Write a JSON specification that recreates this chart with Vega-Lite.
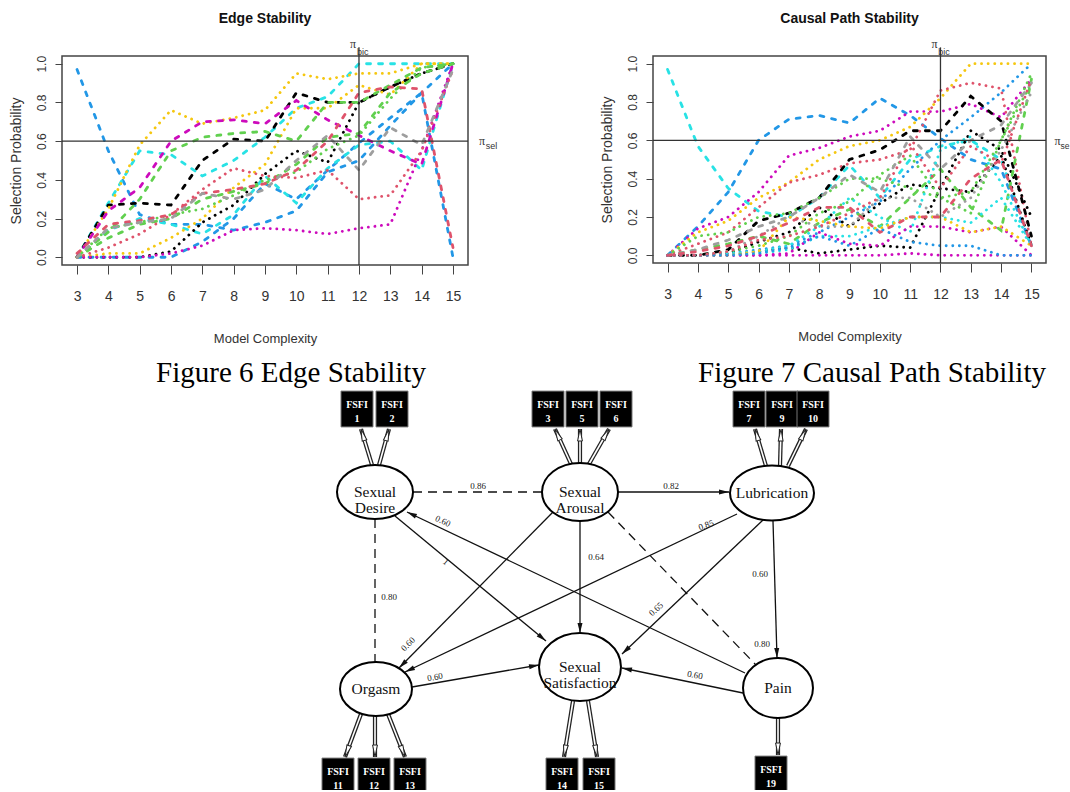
{
"$schema":"https://vega.github.io/schema/vega-lite/v6.json",
"background":"white",
"padding":{"left":8,"top":10,"right":0,"bottom":0},
"autosize":{"type":"pad"},
"bounds":"flush",
"spacing":297,
"config":{
 "view":{"stroke":"#444","strokeWidth":1.5},
 "axis":{"grid":false,"domain":false,"tickColor":"#444","labelColor":"#333","titleColor":"#333","titleFontWeight":"normal","labelFlush":false,"labelOverlap":false},
 "axisX":{"values":[3,4,5,6,7,8,9,10,11,12,13,14,15],"tickSize":9,"labelFontSize":14,"labelFont":"Liberation Sans","labelPadding":15,"titleFont":"Liberation Sans","titleFontSize":13,"titlePadding":29},
 "axisY":{"values":[0,0.2,0.4,0.6,0.8,1],"format":".1f","tickSize":7,"labelAngle":-90,"labelAlign":"center","labelBaseline":"bottom","labelFontSize":12,"labelPadding":7,"labelFont":"Liberation Sans","titleFont":"Liberation Sans","titleFontSize":14,"titlePadding":12}
},
"datasets":{
"edge":[
{"s":"e1","c":"blue","l":"dashed","x":3,"y":0.97},{"s":"e1","c":"blue","l":"dashed","x":4,"y":0.55},{"s":"e1","c":"blue","l":"dashed","x":5,"y":0.22},{"s":"e1","c":"blue","l":"dashed","x":6,"y":0.17},{"s":"e1","c":"blue","l":"dashed","x":7,"y":0.17},{"s":"e1","c":"blue","l":"dashed","x":8,"y":0.14},{"s":"e1","c":"blue","l":"dashed","x":9,"y":0.18},{"s":"e1","c":"blue","l":"dashed","x":10,"y":0.24},{"s":"e1","c":"blue","l":"dashed","x":11,"y":0.44},{"s":"e1","c":"blue","l":"dashed","x":12,"y":0.5},{"s":"e1","c":"blue","l":"dashed","x":13,"y":0.68},{"s":"e1","c":"blue","l":"dashed","x":14,"y":0.85},{"s":"e1","c":"blue","l":"dashed","x":15,"y":1},
{"s":"e2","c":"blue","l":"dashed","x":3,"y":0},{"s":"e2","c":"blue","l":"dashed","x":4,"y":0},{"s":"e2","c":"blue","l":"dashed","x":5,"y":0},{"s":"e2","c":"blue","l":"dashed","x":6,"y":0},{"s":"e2","c":"blue","l":"dashed","x":7,"y":0.08},{"s":"e2","c":"blue","l":"dashed","x":8,"y":0.2},{"s":"e2","c":"blue","l":"dashed","x":9,"y":0.38},{"s":"e2","c":"blue","l":"dashed","x":10,"y":0.3},{"s":"e2","c":"blue","l":"dashed","x":11,"y":0.45},{"s":"e2","c":"blue","l":"dashed","x":12,"y":0.59},{"s":"e2","c":"blue","l":"dashed","x":13,"y":0.72},{"s":"e2","c":"blue","l":"dashed","x":14,"y":0.85},{"s":"e2","c":"blue","l":"dashed","x":15,"y":0},
{"s":"e3","c":"cyan","l":"dashed","x":3,"y":0},{"s":"e3","c":"cyan","l":"dashed","x":4,"y":0.28},{"s":"e3","c":"cyan","l":"dashed","x":5,"y":0.55},{"s":"e3","c":"cyan","l":"dashed","x":6,"y":0.53},{"s":"e3","c":"cyan","l":"dashed","x":7,"y":0.42},{"s":"e3","c":"cyan","l":"dashed","x":8,"y":0.5},{"s":"e3","c":"cyan","l":"dashed","x":9,"y":0.62},{"s":"e3","c":"cyan","l":"dashed","x":10,"y":0.77},{"s":"e3","c":"cyan","l":"dashed","x":11,"y":0.83},{"s":"e3","c":"cyan","l":"dashed","x":12,"y":1},{"s":"e3","c":"cyan","l":"dashed","x":13,"y":1},{"s":"e3","c":"cyan","l":"dashed","x":14,"y":1},{"s":"e3","c":"cyan","l":"dashed","x":15,"y":1},
{"s":"e4","c":"cyan","l":"dashed","x":3,"y":0},{"s":"e4","c":"cyan","l":"dashed","x":4,"y":0.14},{"s":"e4","c":"cyan","l":"dashed","x":5,"y":0.2},{"s":"e4","c":"cyan","l":"dashed","x":6,"y":0.17},{"s":"e4","c":"cyan","l":"dashed","x":7,"y":0.12},{"s":"e4","c":"cyan","l":"dashed","x":8,"y":0.22},{"s":"e4","c":"cyan","l":"dashed","x":9,"y":0.42},{"s":"e4","c":"cyan","l":"dashed","x":10,"y":0.28},{"s":"e4","c":"cyan","l":"dashed","x":11,"y":0.46},{"s":"e4","c":"cyan","l":"dashed","x":12,"y":0.58},{"s":"e4","c":"cyan","l":"dashed","x":13,"y":0.6},{"s":"e4","c":"cyan","l":"dashed","x":14,"y":0.45},{"s":"e4","c":"cyan","l":"dashed","x":15,"y":1},
{"s":"e5","c":"black","l":"dashed","x":3,"y":0},{"s":"e5","c":"black","l":"dashed","x":4,"y":0.27},{"s":"e5","c":"black","l":"dashed","x":5,"y":0.28},{"s":"e5","c":"black","l":"dashed","x":6,"y":0.27},{"s":"e5","c":"black","l":"dashed","x":7,"y":0.5},{"s":"e5","c":"black","l":"dashed","x":8,"y":0.61},{"s":"e5","c":"black","l":"dashed","x":9,"y":0.6},{"s":"e5","c":"black","l":"dashed","x":10,"y":0.85},{"s":"e5","c":"black","l":"dashed","x":11,"y":0.8},{"s":"e5","c":"black","l":"dashed","x":12,"y":0.8},{"s":"e5","c":"black","l":"dashed","x":13,"y":0.88},{"s":"e5","c":"black","l":"dashed","x":14,"y":0.95},{"s":"e5","c":"black","l":"dashed","x":15,"y":1},
{"s":"e6","c":"black","l":"dotted","x":3,"y":0},{"s":"e6","c":"black","l":"dotted","x":4,"y":0},{"s":"e6","c":"black","l":"dotted","x":5,"y":0},{"s":"e6","c":"black","l":"dotted","x":6,"y":0.03},{"s":"e6","c":"black","l":"dotted","x":7,"y":0.18},{"s":"e6","c":"black","l":"dotted","x":8,"y":0.27},{"s":"e6","c":"black","l":"dotted","x":9,"y":0.43},{"s":"e6","c":"black","l":"dotted","x":10,"y":0.55},{"s":"e6","c":"black","l":"dotted","x":11,"y":0.49},{"s":"e6","c":"black","l":"dotted","x":12,"y":0.8},{"s":"e6","c":"black","l":"dotted","x":13,"y":0.88},{"s":"e6","c":"black","l":"dotted","x":14,"y":0.95},{"s":"e6","c":"black","l":"dotted","x":15,"y":1},
{"s":"e7","c":"orange","l":"dotted","x":3,"y":0},{"s":"e7","c":"orange","l":"dotted","x":4,"y":0.25},{"s":"e7","c":"orange","l":"dotted","x":5,"y":0.58},{"s":"e7","c":"orange","l":"dotted","x":6,"y":0.76},{"s":"e7","c":"orange","l":"dotted","x":7,"y":0.69},{"s":"e7","c":"orange","l":"dotted","x":8,"y":0.72},{"s":"e7","c":"orange","l":"dotted","x":9,"y":0.76},{"s":"e7","c":"orange","l":"dotted","x":10,"y":0.95},{"s":"e7","c":"orange","l":"dotted","x":11,"y":0.92},{"s":"e7","c":"orange","l":"dotted","x":12,"y":0.95},{"s":"e7","c":"orange","l":"dotted","x":13,"y":0.95},{"s":"e7","c":"orange","l":"dotted","x":14,"y":1},{"s":"e7","c":"orange","l":"dotted","x":15,"y":1},
{"s":"e8","c":"orange","l":"dotted","x":3,"y":0},{"s":"e8","c":"orange","l":"dotted","x":4,"y":0.02},{"s":"e8","c":"orange","l":"dotted","x":5,"y":0.02},{"s":"e8","c":"orange","l":"dotted","x":6,"y":0.1},{"s":"e8","c":"orange","l":"dotted","x":7,"y":0.2},{"s":"e8","c":"orange","l":"dotted","x":8,"y":0.36},{"s":"e8","c":"orange","l":"dotted","x":9,"y":0.48},{"s":"e8","c":"orange","l":"dotted","x":10,"y":0.77},{"s":"e8","c":"orange","l":"dotted","x":11,"y":0.77},{"s":"e8","c":"orange","l":"dotted","x":12,"y":0.89},{"s":"e8","c":"orange","l":"dotted","x":13,"y":0.84},{"s":"e8","c":"orange","l":"dotted","x":14,"y":1},{"s":"e8","c":"orange","l":"dotted","x":15,"y":1},
{"s":"e9","c":"magenta","l":"dashed","x":3,"y":0},{"s":"e9","c":"magenta","l":"dashed","x":4,"y":0.24},{"s":"e9","c":"magenta","l":"dashed","x":5,"y":0.36},{"s":"e9","c":"magenta","l":"dashed","x":6,"y":0.6},{"s":"e9","c":"magenta","l":"dashed","x":7,"y":0.7},{"s":"e9","c":"magenta","l":"dashed","x":8,"y":0.71},{"s":"e9","c":"magenta","l":"dashed","x":9,"y":0.69},{"s":"e9","c":"magenta","l":"dashed","x":10,"y":0.81},{"s":"e9","c":"magenta","l":"dashed","x":11,"y":0.71},{"s":"e9","c":"magenta","l":"dashed","x":12,"y":0.63},{"s":"e9","c":"magenta","l":"dashed","x":13,"y":0.55},{"s":"e9","c":"magenta","l":"dashed","x":14,"y":0.48},{"s":"e9","c":"magenta","l":"dashed","x":15,"y":1},
{"s":"e10","c":"magenta","l":"dotted","x":3,"y":0},{"s":"e10","c":"magenta","l":"dotted","x":4,"y":0},{"s":"e10","c":"magenta","l":"dotted","x":5,"y":0},{"s":"e10","c":"magenta","l":"dotted","x":6,"y":0.02},{"s":"e10","c":"magenta","l":"dotted","x":7,"y":0.06},{"s":"e10","c":"magenta","l":"dotted","x":8,"y":0.14},{"s":"e10","c":"magenta","l":"dotted","x":9,"y":0.15},{"s":"e10","c":"magenta","l":"dotted","x":10,"y":0.14},{"s":"e10","c":"magenta","l":"dotted","x":11,"y":0.12},{"s":"e10","c":"magenta","l":"dotted","x":12,"y":0.15},{"s":"e10","c":"magenta","l":"dotted","x":13,"y":0.17},{"s":"e10","c":"magenta","l":"dotted","x":14,"y":0.55},{"s":"e10","c":"magenta","l":"dotted","x":15,"y":1},
{"s":"e11","c":"green","l":"dashed","x":3,"y":0},{"s":"e11","c":"green","l":"dashed","x":4,"y":0.13},{"s":"e11","c":"green","l":"dashed","x":5,"y":0.3},{"s":"e11","c":"green","l":"dashed","x":6,"y":0.55},{"s":"e11","c":"green","l":"dashed","x":7,"y":0.62},{"s":"e11","c":"green","l":"dashed","x":8,"y":0.64},{"s":"e11","c":"green","l":"dashed","x":9,"y":0.65},{"s":"e11","c":"green","l":"dashed","x":10,"y":0.6},{"s":"e11","c":"green","l":"dashed","x":11,"y":0.8},{"s":"e11","c":"green","l":"dashed","x":12,"y":0.8},{"s":"e11","c":"green","l":"dashed","x":13,"y":0.89},{"s":"e11","c":"green","l":"dashed","x":14,"y":0.98},{"s":"e11","c":"green","l":"dashed","x":15,"y":1},
{"s":"e12","c":"green","l":"dotted","x":3,"y":0},{"s":"e12","c":"green","l":"dotted","x":4,"y":0.15},{"s":"e12","c":"green","l":"dotted","x":5,"y":0.18},{"s":"e12","c":"green","l":"dotted","x":6,"y":0.22},{"s":"e12","c":"green","l":"dotted","x":7,"y":0.25},{"s":"e12","c":"green","l":"dotted","x":8,"y":0.32},{"s":"e12","c":"green","l":"dotted","x":9,"y":0.4},{"s":"e12","c":"green","l":"dotted","x":10,"y":0.44},{"s":"e12","c":"green","l":"dotted","x":11,"y":0.56},{"s":"e12","c":"green","l":"dotted","x":12,"y":0.63},{"s":"e12","c":"green","l":"dotted","x":13,"y":0.82},{"s":"e12","c":"green","l":"dotted","x":14,"y":0.98},{"s":"e12","c":"green","l":"dotted","x":15,"y":1},
{"s":"e13","c":"green","l":"dashed","x":3,"y":0},{"s":"e13","c":"green","l":"dashed","x":4,"y":0.1},{"s":"e13","c":"green","l":"dashed","x":5,"y":0.17},{"s":"e13","c":"green","l":"dashed","x":6,"y":0.2},{"s":"e13","c":"green","l":"dashed","x":7,"y":0.3},{"s":"e13","c":"green","l":"dashed","x":8,"y":0.34},{"s":"e13","c":"green","l":"dashed","x":9,"y":0.38},{"s":"e13","c":"green","l":"dashed","x":10,"y":0.48},{"s":"e13","c":"green","l":"dashed","x":11,"y":0.62},{"s":"e13","c":"green","l":"dashed","x":12,"y":0.64},{"s":"e13","c":"green","l":"dashed","x":13,"y":0.85},{"s":"e13","c":"green","l":"dashed","x":14,"y":0.95},{"s":"e13","c":"green","l":"dashed","x":15,"y":1},
{"s":"e14","c":"red","l":"dotted","x":3,"y":0},{"s":"e14","c":"red","l":"dotted","x":4,"y":0.05},{"s":"e14","c":"red","l":"dotted","x":5,"y":0.12},{"s":"e14","c":"red","l":"dotted","x":6,"y":0.22},{"s":"e14","c":"red","l":"dotted","x":7,"y":0.35},{"s":"e14","c":"red","l":"dotted","x":8,"y":0.46},{"s":"e14","c":"red","l":"dotted","x":9,"y":0.42},{"s":"e14","c":"red","l":"dotted","x":10,"y":0.41},{"s":"e14","c":"red","l":"dotted","x":11,"y":0.45},{"s":"e14","c":"red","l":"dotted","x":12,"y":0.3},{"s":"e14","c":"red","l":"dotted","x":13,"y":0.32},{"s":"e14","c":"red","l":"dotted","x":14,"y":0.55},{"s":"e14","c":"red","l":"dotted","x":15,"y":0.97},
{"s":"e15","c":"red","l":"dashed","x":3,"y":0.02},{"s":"e15","c":"red","l":"dashed","x":4,"y":0.17},{"s":"e15","c":"red","l":"dashed","x":5,"y":0.19},{"s":"e15","c":"red","l":"dashed","x":6,"y":0.22},{"s":"e15","c":"red","l":"dashed","x":7,"y":0.33},{"s":"e15","c":"red","l":"dashed","x":8,"y":0.35},{"s":"e15","c":"red","l":"dashed","x":9,"y":0.38},{"s":"e15","c":"red","l":"dashed","x":10,"y":0.45},{"s":"e15","c":"red","l":"dashed","x":11,"y":0.6},{"s":"e15","c":"red","l":"dashed","x":12,"y":0.85},{"s":"e15","c":"red","l":"dashed","x":13,"y":0.88},{"s":"e15","c":"red","l":"dashed","x":14,"y":0.87},{"s":"e15","c":"red","l":"dashed","x":15,"y":0.05},
{"s":"e16","c":"gray","l":"dashed","x":3,"y":0},{"s":"e16","c":"gray","l":"dashed","x":4,"y":0.15},{"s":"e16","c":"gray","l":"dashed","x":5,"y":0.18},{"s":"e16","c":"gray","l":"dashed","x":6,"y":0.2},{"s":"e16","c":"gray","l":"dashed","x":7,"y":0.33},{"s":"e16","c":"gray","l":"dashed","x":8,"y":0.3},{"s":"e16","c":"gray","l":"dashed","x":9,"y":0.35},{"s":"e16","c":"gray","l":"dashed","x":10,"y":0.5},{"s":"e16","c":"gray","l":"dashed","x":11,"y":0.63},{"s":"e16","c":"gray","l":"dashed","x":12,"y":0.45},{"s":"e16","c":"gray","l":"dashed","x":13,"y":0.67},{"s":"e16","c":"gray","l":"dashed","x":14,"y":0.58},{"s":"e16","c":"gray","l":"dashed","x":15,"y":0.97}
],
"path":[
{"s":"p1","c":"cyan","l":"dashed","x":3,"y":0.97},{"s":"p1","c":"cyan","l":"dashed","x":4,"y":0.57},{"s":"p1","c":"cyan","l":"dashed","x":5,"y":0.35},{"s":"p1","c":"cyan","l":"dashed","x":6,"y":0.23},{"s":"p1","c":"cyan","l":"dashed","x":7,"y":0.2},{"s":"p1","c":"cyan","l":"dashed","x":8,"y":0.3},{"s":"p1","c":"cyan","l":"dashed","x":9,"y":0.47},{"s":"p1","c":"cyan","l":"dashed","x":10,"y":0.3},{"s":"p1","c":"cyan","l":"dashed","x":11,"y":0.5},{"s":"p1","c":"cyan","l":"dashed","x":12,"y":0.57},{"s":"p1","c":"cyan","l":"dashed","x":13,"y":0.6},{"s":"p1","c":"cyan","l":"dashed","x":14,"y":0.5},{"s":"p1","c":"cyan","l":"dashed","x":15,"y":0.05},
{"s":"p2","c":"blue","l":"dashed","x":3,"y":0},{"s":"p2","c":"blue","l":"dashed","x":4,"y":0.15},{"s":"p2","c":"blue","l":"dashed","x":5,"y":0.33},{"s":"p2","c":"blue","l":"dashed","x":6,"y":0.6},{"s":"p2","c":"blue","l":"dashed","x":7,"y":0.71},{"s":"p2","c":"blue","l":"dashed","x":8,"y":0.73},{"s":"p2","c":"blue","l":"dashed","x":9,"y":0.69},{"s":"p2","c":"blue","l":"dashed","x":10,"y":0.82},{"s":"p2","c":"blue","l":"dashed","x":11,"y":0.73},{"s":"p2","c":"blue","l":"dashed","x":12,"y":0.61},{"s":"p2","c":"blue","l":"dashed","x":13,"y":0.5},{"s":"p2","c":"blue","l":"dashed","x":14,"y":0.45},{"s":"p2","c":"blue","l":"dashed","x":15,"y":0.05},
{"s":"p3","c":"blue","l":"dotted","x":3,"y":0},{"s":"p3","c":"blue","l":"dotted","x":4,"y":0},{"s":"p3","c":"blue","l":"dotted","x":5,"y":0.01},{"s":"p3","c":"blue","l":"dotted","x":6,"y":0.03},{"s":"p3","c":"blue","l":"dotted","x":7,"y":0.05},{"s":"p3","c":"blue","l":"dotted","x":8,"y":0.12},{"s":"p3","c":"blue","l":"dotted","x":9,"y":0.2},{"s":"p3","c":"blue","l":"dotted","x":10,"y":0.28},{"s":"p3","c":"blue","l":"dotted","x":11,"y":0.45},{"s":"p3","c":"blue","l":"dotted","x":12,"y":0.6},{"s":"p3","c":"blue","l":"dotted","x":13,"y":0.72},{"s":"p3","c":"blue","l":"dotted","x":14,"y":0.85},{"s":"p3","c":"blue","l":"dotted","x":15,"y":1},
{"s":"p4","c":"magenta","l":"dotted","x":3,"y":0},{"s":"p4","c":"magenta","l":"dotted","x":4,"y":0.14},{"s":"p4","c":"magenta","l":"dotted","x":5,"y":0.2},{"s":"p4","c":"magenta","l":"dotted","x":6,"y":0.33},{"s":"p4","c":"magenta","l":"dotted","x":7,"y":0.52},{"s":"p4","c":"magenta","l":"dotted","x":8,"y":0.56},{"s":"p4","c":"magenta","l":"dotted","x":9,"y":0.62},{"s":"p4","c":"magenta","l":"dotted","x":10,"y":0.65},{"s":"p4","c":"magenta","l":"dotted","x":11,"y":0.75},{"s":"p4","c":"magenta","l":"dotted","x":12,"y":0.75},{"s":"p4","c":"magenta","l":"dotted","x":13,"y":0.79},{"s":"p4","c":"magenta","l":"dotted","x":14,"y":0.72},{"s":"p4","c":"magenta","l":"dotted","x":15,"y":0.92},
{"s":"p5","c":"orange","l":"dotted","x":3,"y":0},{"s":"p5","c":"orange","l":"dotted","x":4,"y":0.12},{"s":"p5","c":"orange","l":"dotted","x":5,"y":0.18},{"s":"p5","c":"orange","l":"dotted","x":6,"y":0.3},{"s":"p5","c":"orange","l":"dotted","x":7,"y":0.38},{"s":"p5","c":"orange","l":"dotted","x":8,"y":0.5},{"s":"p5","c":"orange","l":"dotted","x":9,"y":0.57},{"s":"p5","c":"orange","l":"dotted","x":10,"y":0.6},{"s":"p5","c":"orange","l":"dotted","x":11,"y":0.67},{"s":"p5","c":"orange","l":"dotted","x":12,"y":0.82},{"s":"p5","c":"orange","l":"dotted","x":13,"y":1},{"s":"p5","c":"orange","l":"dotted","x":14,"y":1},{"s":"p5","c":"orange","l":"dotted","x":15,"y":1},
{"s":"p6","c":"red","l":"dotted","x":3,"y":0},{"s":"p6","c":"red","l":"dotted","x":4,"y":0.06},{"s":"p6","c":"red","l":"dotted","x":5,"y":0.12},{"s":"p6","c":"red","l":"dotted","x":6,"y":0.25},{"s":"p6","c":"red","l":"dotted","x":7,"y":0.38},{"s":"p6","c":"red","l":"dotted","x":8,"y":0.42},{"s":"p6","c":"red","l":"dotted","x":9,"y":0.48},{"s":"p6","c":"red","l":"dotted","x":10,"y":0.5},{"s":"p6","c":"red","l":"dotted","x":11,"y":0.55},{"s":"p6","c":"red","l":"dotted","x":12,"y":0.86},{"s":"p6","c":"red","l":"dotted","x":13,"y":0.9},{"s":"p6","c":"red","l":"dotted","x":14,"y":0.87},{"s":"p6","c":"red","l":"dotted","x":15,"y":0.05},
{"s":"p7","c":"black","l":"dashed","x":3,"y":0},{"s":"p7","c":"black","l":"dashed","x":4,"y":0},{"s":"p7","c":"black","l":"dashed","x":5,"y":0.03},{"s":"p7","c":"black","l":"dashed","x":6,"y":0.18},{"s":"p7","c":"black","l":"dashed","x":7,"y":0.22},{"s":"p7","c":"black","l":"dashed","x":8,"y":0.3},{"s":"p7","c":"black","l":"dashed","x":9,"y":0.5},{"s":"p7","c":"black","l":"dashed","x":10,"y":0.55},{"s":"p7","c":"black","l":"dashed","x":11,"y":0.65},{"s":"p7","c":"black","l":"dashed","x":12,"y":0.65},{"s":"p7","c":"black","l":"dashed","x":13,"y":0.83},{"s":"p7","c":"black","l":"dashed","x":14,"y":0.7},{"s":"p7","c":"black","l":"dashed","x":15,"y":0.1},
{"s":"p8","c":"black","l":"dotted","x":3,"y":0},{"s":"p8","c":"black","l":"dotted","x":4,"y":0},{"s":"p8","c":"black","l":"dotted","x":5,"y":0.01},{"s":"p8","c":"black","l":"dotted","x":6,"y":0.07},{"s":"p8","c":"black","l":"dotted","x":7,"y":0.12},{"s":"p8","c":"black","l":"dotted","x":8,"y":0.25},{"s":"p8","c":"black","l":"dotted","x":9,"y":0.15},{"s":"p8","c":"black","l":"dotted","x":10,"y":0.27},{"s":"p8","c":"black","l":"dotted","x":11,"y":0.37},{"s":"p8","c":"black","l":"dotted","x":12,"y":0.35},{"s":"p8","c":"black","l":"dotted","x":13,"y":0.65},{"s":"p8","c":"black","l":"dotted","x":14,"y":0.55},{"s":"p8","c":"black","l":"dotted","x":15,"y":0.2},
{"s":"p9","c":"black","l":"dotted","x":3,"y":0},{"s":"p9","c":"black","l":"dotted","x":4,"y":0},{"s":"p9","c":"black","l":"dotted","x":5,"y":0},{"s":"p9","c":"black","l":"dotted","x":6,"y":0.02},{"s":"p9","c":"black","l":"dotted","x":7,"y":0.04},{"s":"p9","c":"black","l":"dotted","x":8,"y":0.01},{"s":"p9","c":"black","l":"dotted","x":9,"y":0.03},{"s":"p9","c":"black","l":"dotted","x":10,"y":0.05},{"s":"p9","c":"black","l":"dotted","x":11,"y":0.04},{"s":"p9","c":"black","l":"dotted","x":12,"y":0.35},{"s":"p9","c":"black","l":"dotted","x":13,"y":0.33},{"s":"p9","c":"black","l":"dotted","x":14,"y":0.52},{"s":"p9","c":"black","l":"dotted","x":15,"y":0.05},
{"s":"p10","c":"green","l":"dotted","x":3,"y":0},{"s":"p10","c":"green","l":"dotted","x":4,"y":0.1},{"s":"p10","c":"green","l":"dotted","x":5,"y":0.12},{"s":"p10","c":"green","l":"dotted","x":6,"y":0.2},{"s":"p10","c":"green","l":"dotted","x":7,"y":0.22},{"s":"p10","c":"green","l":"dotted","x":8,"y":0.3},{"s":"p10","c":"green","l":"dotted","x":9,"y":0.4},{"s":"p10","c":"green","l":"dotted","x":10,"y":0.4},{"s":"p10","c":"green","l":"dotted","x":11,"y":0.35},{"s":"p10","c":"green","l":"dotted","x":12,"y":0.3},{"s":"p10","c":"green","l":"dotted","x":13,"y":0.33},{"s":"p10","c":"green","l":"dotted","x":14,"y":0.6},{"s":"p10","c":"green","l":"dotted","x":15,"y":0.95},
{"s":"p11","c":"green","l":"dashed","x":3,"y":0},{"s":"p11","c":"green","l":"dashed","x":4,"y":0.03},{"s":"p11","c":"green","l":"dashed","x":5,"y":0.06},{"s":"p11","c":"green","l":"dashed","x":6,"y":0.1},{"s":"p11","c":"green","l":"dashed","x":7,"y":0.06},{"s":"p11","c":"green","l":"dashed","x":8,"y":0.17},{"s":"p11","c":"green","l":"dashed","x":9,"y":0.24},{"s":"p11","c":"green","l":"dashed","x":10,"y":0.15},{"s":"p11","c":"green","l":"dashed","x":11,"y":0.3},{"s":"p11","c":"green","l":"dashed","x":12,"y":0.45},{"s":"p11","c":"green","l":"dashed","x":13,"y":0.25},{"s":"p11","c":"green","l":"dashed","x":14,"y":0.13},{"s":"p11","c":"green","l":"dashed","x":15,"y":0.92},
{"s":"p12","c":"green","l":"dotted","x":3,"y":0},{"s":"p12","c":"green","l":"dotted","x":4,"y":0},{"s":"p12","c":"green","l":"dotted","x":5,"y":0.02},{"s":"p12","c":"green","l":"dotted","x":6,"y":0.05},{"s":"p12","c":"green","l":"dotted","x":7,"y":0.1},{"s":"p12","c":"green","l":"dotted","x":8,"y":0.22},{"s":"p12","c":"green","l":"dotted","x":9,"y":0.28},{"s":"p12","c":"green","l":"dotted","x":10,"y":0.42},{"s":"p12","c":"green","l":"dotted","x":11,"y":0.52},{"s":"p12","c":"green","l":"dotted","x":12,"y":0.3},{"s":"p12","c":"green","l":"dotted","x":13,"y":0.22},{"s":"p12","c":"green","l":"dotted","x":14,"y":0.6},{"s":"p12","c":"green","l":"dotted","x":15,"y":0.9},
{"s":"p13","c":"gray","l":"dashed","x":3,"y":0},{"s":"p13","c":"gray","l":"dashed","x":4,"y":0.03},{"s":"p13","c":"gray","l":"dashed","x":5,"y":0.08},{"s":"p13","c":"gray","l":"dashed","x":6,"y":0.15},{"s":"p13","c":"gray","l":"dashed","x":7,"y":0.2},{"s":"p13","c":"gray","l":"dashed","x":8,"y":0.3},{"s":"p13","c":"gray","l":"dashed","x":9,"y":0.42},{"s":"p13","c":"gray","l":"dashed","x":10,"y":0.33},{"s":"p13","c":"gray","l":"dashed","x":11,"y":0.62},{"s":"p13","c":"gray","l":"dashed","x":12,"y":0.45},{"s":"p13","c":"gray","l":"dashed","x":13,"y":0.6},{"s":"p13","c":"gray","l":"dashed","x":14,"y":0.68},{"s":"p13","c":"gray","l":"dashed","x":15,"y":0.9},
{"s":"p14","c":"gray","l":"dotted","x":3,"y":0},{"s":"p14","c":"gray","l":"dotted","x":4,"y":0},{"s":"p14","c":"gray","l":"dotted","x":5,"y":0.02},{"s":"p14","c":"gray","l":"dotted","x":6,"y":0.1},{"s":"p14","c":"gray","l":"dotted","x":7,"y":0.2},{"s":"p14","c":"gray","l":"dotted","x":8,"y":0.15},{"s":"p14","c":"gray","l":"dotted","x":9,"y":0.15},{"s":"p14","c":"gray","l":"dotted","x":10,"y":0.3},{"s":"p14","c":"gray","l":"dotted","x":11,"y":0.3},{"s":"p14","c":"gray","l":"dotted","x":12,"y":0.2},{"s":"p14","c":"gray","l":"dotted","x":13,"y":0.3},{"s":"p14","c":"gray","l":"dotted","x":14,"y":0.55},{"s":"p14","c":"gray","l":"dotted","x":15,"y":0.85},
{"s":"p15","c":"cyan","l":"dotted","x":3,"y":0},{"s":"p15","c":"cyan","l":"dotted","x":4,"y":0},{"s":"p15","c":"cyan","l":"dotted","x":5,"y":0.01},{"s":"p15","c":"cyan","l":"dotted","x":6,"y":0.02},{"s":"p15","c":"cyan","l":"dotted","x":7,"y":0.05},{"s":"p15","c":"cyan","l":"dotted","x":8,"y":0.15},{"s":"p15","c":"cyan","l":"dotted","x":9,"y":0.3},{"s":"p15","c":"cyan","l":"dotted","x":10,"y":0.2},{"s":"p15","c":"cyan","l":"dotted","x":11,"y":0.12},{"s":"p15","c":"cyan","l":"dotted","x":12,"y":0.55},{"s":"p15","c":"cyan","l":"dotted","x":13,"y":0.62},{"s":"p15","c":"cyan","l":"dotted","x":14,"y":0.38},{"s":"p15","c":"cyan","l":"dotted","x":15,"y":0.05},
{"s":"p16","c":"cyan","l":"dotted","x":3,"y":0},{"s":"p16","c":"cyan","l":"dotted","x":4,"y":0},{"s":"p16","c":"cyan","l":"dotted","x":5,"y":0},{"s":"p16","c":"cyan","l":"dotted","x":6,"y":0.01},{"s":"p16","c":"cyan","l":"dotted","x":7,"y":0.03},{"s":"p16","c":"cyan","l":"dotted","x":8,"y":0.1},{"s":"p16","c":"cyan","l":"dotted","x":9,"y":0.1},{"s":"p16","c":"cyan","l":"dotted","x":10,"y":0.15},{"s":"p16","c":"cyan","l":"dotted","x":11,"y":0.2},{"s":"p16","c":"cyan","l":"dotted","x":12,"y":0.2},{"s":"p16","c":"cyan","l":"dotted","x":13,"y":0.17},{"s":"p16","c":"cyan","l":"dotted","x":14,"y":0.3},{"s":"p16","c":"cyan","l":"dotted","x":15,"y":0.05},
{"s":"p17","c":"magenta","l":"dotted","x":3,"y":0},{"s":"p17","c":"magenta","l":"dotted","x":4,"y":0},{"s":"p17","c":"magenta","l":"dotted","x":5,"y":0},{"s":"p17","c":"magenta","l":"dotted","x":6,"y":0},{"s":"p17","c":"magenta","l":"dotted","x":7,"y":0.01},{"s":"p17","c":"magenta","l":"dotted","x":8,"y":0.12},{"s":"p17","c":"magenta","l":"dotted","x":9,"y":0.06},{"s":"p17","c":"magenta","l":"dotted","x":10,"y":0.05},{"s":"p17","c":"magenta","l":"dotted","x":11,"y":0.15},{"s":"p17","c":"magenta","l":"dotted","x":12,"y":0.15},{"s":"p17","c":"magenta","l":"dotted","x":13,"y":0.12},{"s":"p17","c":"magenta","l":"dotted","x":14,"y":0.15},{"s":"p17","c":"magenta","l":"dotted","x":15,"y":0},
{"s":"p18","c":"magenta","l":"dotted","x":3,"y":0},{"s":"p18","c":"magenta","l":"dotted","x":4,"y":0},{"s":"p18","c":"magenta","l":"dotted","x":5,"y":0},{"s":"p18","c":"magenta","l":"dotted","x":6,"y":0},{"s":"p18","c":"magenta","l":"dotted","x":7,"y":0},{"s":"p18","c":"magenta","l":"dotted","x":8,"y":0},{"s":"p18","c":"magenta","l":"dotted","x":9,"y":0},{"s":"p18","c":"magenta","l":"dotted","x":10,"y":0},{"s":"p18","c":"magenta","l":"dotted","x":11,"y":0.01},{"s":"p18","c":"magenta","l":"dotted","x":12,"y":0},{"s":"p18","c":"magenta","l":"dotted","x":13,"y":0},{"s":"p18","c":"magenta","l":"dotted","x":14,"y":0},{"s":"p18","c":"magenta","l":"dotted","x":15,"y":0},
{"s":"p19","c":"orange","l":"dotted","x":3,"y":0},{"s":"p19","c":"orange","l":"dotted","x":4,"y":0},{"s":"p19","c":"orange","l":"dotted","x":5,"y":0},{"s":"p19","c":"orange","l":"dotted","x":6,"y":0.02},{"s":"p19","c":"orange","l":"dotted","x":7,"y":0.2},{"s":"p19","c":"orange","l":"dotted","x":8,"y":0.18},{"s":"p19","c":"orange","l":"dotted","x":9,"y":0.15},{"s":"p19","c":"orange","l":"dotted","x":10,"y":0.14},{"s":"p19","c":"orange","l":"dotted","x":11,"y":0.2},{"s":"p19","c":"orange","l":"dotted","x":12,"y":0.2},{"s":"p19","c":"orange","l":"dotted","x":13,"y":0.12},{"s":"p19","c":"orange","l":"dotted","x":14,"y":0.15},{"s":"p19","c":"orange","l":"dotted","x":15,"y":0.05},
{"s":"p20","c":"red","l":"dashed","x":3,"y":0},{"s":"p20","c":"red","l":"dashed","x":4,"y":0.02},{"s":"p20","c":"red","l":"dashed","x":5,"y":0.05},{"s":"p20","c":"red","l":"dashed","x":6,"y":0.1},{"s":"p20","c":"red","l":"dashed","x":7,"y":0.17},{"s":"p20","c":"red","l":"dashed","x":8,"y":0.25},{"s":"p20","c":"red","l":"dashed","x":9,"y":0.25},{"s":"p20","c":"red","l":"dashed","x":10,"y":0.12},{"s":"p20","c":"red","l":"dashed","x":11,"y":0.2},{"s":"p20","c":"red","l":"dashed","x":12,"y":0.2},{"s":"p20","c":"red","l":"dashed","x":13,"y":0.4},{"s":"p20","c":"red","l":"dashed","x":14,"y":0.5},{"s":"p20","c":"red","l":"dashed","x":15,"y":0.05},
{"s":"p21","c":"blue","l":"dotted","x":3,"y":0},{"s":"p21","c":"blue","l":"dotted","x":4,"y":0},{"s":"p21","c":"blue","l":"dotted","x":5,"y":0},{"s":"p21","c":"blue","l":"dotted","x":6,"y":0.01},{"s":"p21","c":"blue","l":"dotted","x":7,"y":0.04},{"s":"p21","c":"blue","l":"dotted","x":8,"y":0.1},{"s":"p21","c":"blue","l":"dotted","x":9,"y":0.05},{"s":"p21","c":"blue","l":"dotted","x":10,"y":0.14},{"s":"p21","c":"blue","l":"dotted","x":11,"y":0.07},{"s":"p21","c":"blue","l":"dotted","x":12,"y":0.05},{"s":"p21","c":"blue","l":"dotted","x":13,"y":0.05},{"s":"p21","c":"blue","l":"dotted","x":14,"y":0},{"s":"p21","c":"blue","l":"dotted","x":15,"y":0},
{"s":"p22","c":"red","l":"dotted","x":3,"y":0},{"s":"p22","c":"red","l":"dotted","x":4,"y":0},{"s":"p22","c":"red","l":"dotted","x":5,"y":0.02},{"s":"p22","c":"red","l":"dotted","x":6,"y":0.08},{"s":"p22","c":"red","l":"dotted","x":7,"y":0.1},{"s":"p22","c":"red","l":"dotted","x":8,"y":0.15},{"s":"p22","c":"red","l":"dotted","x":9,"y":0.22},{"s":"p22","c":"red","l":"dotted","x":10,"y":0.3},{"s":"p22","c":"red","l":"dotted","x":11,"y":0.58},{"s":"p22","c":"red","l":"dotted","x":12,"y":0.35},{"s":"p22","c":"red","l":"dotted","x":13,"y":0.57},{"s":"p22","c":"red","l":"dotted","x":14,"y":0.48},{"s":"p22","c":"red","l":"dotted","x":15,"y":0.92}
],
"nodes":[
{"n":"Desire","t":"Sexual\nDesire","x":375,"y":494},
{"n":"Arousal","t":"Sexual\nArousal","x":580,"y":494},
{"n":"Lubrication","t":"Lubrication","x":772,"y":495},
{"n":"Orgasm","t":"Orgasm","x":376,"y":691},
{"n":"Satisfaction","t":"Sexual\nSatisfaction","x":580,"y":669},
{"n":"Pain","t":"Pain","x":778,"y":690}
],
"boxes":[
{"t":"FSFI\n1","x":357,"y":411},{"t":"FSFI\n2","x":392,"y":411},
{"t":"FSFI\n3","x":548,"y":411},{"t":"FSFI\n5","x":582,"y":411},{"t":"FSFI\n6","x":616,"y":411},
{"t":"FSFI\n7","x":749,"y":411},{"t":"FSFI\n9","x":782,"y":411},{"t":"FSFI\n10","x":813,"y":411},
{"t":"FSFI\n11","x":338,"y":778},{"t":"FSFI\n12","x":374,"y":778},{"t":"FSFI\n13","x":410,"y":778},
{"t":"FSFI\n14","x":562,"y":778},{"t":"FSFI\n15","x":599,"y":778},{"t":"FSFI\n19","x":771,"y":776}
],
"edges":[
{"from":"Desire","to":"Arousal","st":"dashed","arr":false,"x1":413,"y1":494,"x2":542,"y2":494},
{"from":"Arousal","to":"Lubrication","st":"solid","arr":true,"x1":618,"y1":494,"x2":729,"y2":494},
{"from":"Pain","to":"Desire","st":"solid","arr":true,"x1":745,"y1":675,"x2":407,"y2":514},
{"from":"Desire","to":"Satisfaction","st":"solid","arr":true,"x1":395,"y1":518,"x2":546,"y2":643},
{"from":"Desire","to":"Orgasm","st":"dashed","arr":false,"x1":375,"y1":521,"x2":375,"y2":664},
{"from":"Arousal","to":"Orgasm","st":"solid","arr":true,"x1":553,"y1":514,"x2":399,"y2":670},
{"from":"Arousal","to":"Satisfaction","st":"solid","arr":true,"x1":580,"y1":523,"x2":580,"y2":635},
{"from":"Arousal","to":"Pain","st":"dashed","arr":false,"x1":608,"y1":514,"x2":756,"y2":667},
{"from":"Lubrication","to":"Orgasm","st":"solid","arr":true,"x1":737,"y1":516,"x2":405,"y2":674},
{"from":"Lubrication","to":"Satisfaction","st":"solid","arr":true,"x1":763,"y1":522,"x2":622,"y2":656},
{"from":"Lubrication","to":"Pain","st":"solid","arr":true,"x1":773,"y1":523,"x2":777,"y2":660},
{"from":"Orgasm","to":"Satisfaction","st":"solid","arr":true,"x1":412,"y1":689,"x2":539,"y2":667},
{"from":"Pain","to":"Satisfaction","st":"solid","arr":true,"x1":743,"y1":695,"x2":622,"y2":670}
],
"inds":[
{"x1":372,"y1":467,"x2":361,"y2":431},{"x1":379,"y1":467,"x2":389,"y2":431},
{"x1":571,"y1":466,"x2":555,"y2":431},{"x1":580,"y1":466,"x2":580,"y2":431},{"x1":589,"y1":466,"x2":609,"y2":431},
{"x1":766,"y1":468,"x2":755,"y2":431},{"x1":780,"y1":468,"x2":781,"y2":431},{"x1":788,"y1":468,"x2":806,"y2":431},
{"x1":361,"y1":716,"x2":345,"y2":759},{"x1":375,"y1":718,"x2":375,"y2":759},{"x1":388,"y1":716,"x2":405,"y2":759},
{"x1":573,"y1":703,"x2":564,"y2":759},{"x1":588,"y1":703,"x2":597,"y2":759},
{"x1":778,"y1":720,"x2":778,"y2":757}
],
"elabs":[
{"t":"0.86","x":478,"y":488,"a":0},{"t":"0.82","x":671,"y":488,"a":0},
{"t":"0.60","x":443,"y":523,"a":25},{"t":"1","x":446,"y":564,"a":40},
{"t":"0.80","x":389,"y":599,"a":0},{"t":"0.60","x":408,"y":646,"a":-45},
{"t":"0.64","x":596,"y":559,"a":0},{"t":"0.80","x":762,"y":646,"a":0},
{"t":"0.85","x":706,"y":527,"a":-20},{"t":"0.65","x":656,"y":611,"a":-43},
{"t":"0.60","x":760,"y":576,"a":0},{"t":"0.60","x":435,"y":679,"a":-10},
{"t":"0.60","x":695,"y":677,"a":11}
],
"caps":[
{"t":"Figure 6 Edge Stability","x":291,"y":384},
{"t":"Figure 7 Causal Path Stability","x":872,"y":384}
]
},
"vconcat":[
{
 "hconcat":[
  {
   "width":406,"height":209,
   "title":{"text":"Edge Stability","fontSize":14,"font":"Liberation Sans","fontWeight":"bold","color":"#111","offset":12,"anchor":"middle"},
   "encoding":{
    "x":{"field":"x","type":"quantitative","title":"Model Complexity","scale":{"domain":[2.52,15.48],"nice":false,"zero":false}},
    "y":{"field":"y","type":"quantitative","title":"Selection Probability","scale":{"domain":[-0.04,1.04],"nice":false,"zero":false}}
   },
   "layer":[
    {"data":{"name":"edge"},"mark":{"type":"line","strokeWidth":2.8,"strokeCap":"round"},
     "encoding":{
      "color":{"field":"c","type":"nominal","scale":{"domain":["black","red","green","blue","cyan","magenta","orange","gray"],"range":["#000000","#DF536B","#61D04F","#2297E6","#28E2E5","#CD0BBC","#F5C710","#9E9E9E"]},"legend":null},
      "strokeDash":{"field":"l","type":"nominal","scale":{"domain":["dashed","dotted"],"range":[[4,8],[0.1,6.5]]},"legend":null},
      "detail":{"field":"s"}
     }},
    {"data":{"values":[{"x":2.52,"x2":15.48,"y":0.6}]},"mark":{"type":"rule","color":"#333","strokeWidth":1.3},
     "encoding":{"x2":{"field":"x2"}}},
    {"data":{"values":[{"x":12,"y":-0.04,"y2":1.085}]},"mark":{"type":"rule","color":"#333","strokeWidth":1.3,"clip":false},
     "encoding":{"y2":{"field":"y2"}}},
    {"data":{"values":[{"x":11.81,"y":1.083,"t":"π"},{"x":15.93,"y":0.58,"t":"π"}]},"mark":{"type":"text","fontSize":12,"align":"center","baseline":"alphabetic","color":"#333","font":"Liberation Serif","clip":false},
     "encoding":{"text":{"field":"t"}}},
    {"data":{"values":[{"x":11.94,"y":1.047,"t":"bic"},{"x":16.05,"y":0.56,"t":"sel"}]},"mark":{"type":"text","fontSize":9,"align":"left","baseline":"alphabetic","color":"#333","font":"Liberation Sans","clip":false},
     "encoding":{"text":{"field":"t"}}}
   ]
  },
  {
   "width":393,"height":207,
   "title":{"text":"Causal Path Stability","fontSize":14,"font":"Liberation Sans","fontWeight":"bold","color":"#111","offset":12,"anchor":"middle"},
   "encoding":{
    "x":{"field":"x","type":"quantitative","title":"Model Complexity","scale":{"domain":[2.52,15.48],"nice":false,"zero":false}},
    "y":{"field":"y","type":"quantitative","title":"Selection Probability","scale":{"domain":[-0.04,1.04],"nice":false,"zero":false}}
   },
   "layer":[
    {"data":{"name":"path"},"mark":{"type":"line","strokeWidth":2.8,"strokeCap":"round"},
     "encoding":{
      "color":{"field":"c","type":"nominal","scale":{"domain":["black","red","green","blue","cyan","magenta","orange","gray"],"range":["#000000","#DF536B","#61D04F","#2297E6","#28E2E5","#CD0BBC","#F5C710","#9E9E9E"]},"legend":null},
      "strokeDash":{"field":"l","type":"nominal","scale":{"domain":["dashed","dotted"],"range":[[4,8],[0.1,6.5]]},"legend":null},
      "detail":{"field":"s"}
     }},
    {"data":{"values":[{"x":2.52,"x2":15.48,"y":0.6}]},"mark":{"type":"rule","color":"#333","strokeWidth":1.3},
     "encoding":{"x2":{"field":"x2"}}},
    {"data":{"values":[{"x":12,"y":-0.04,"y2":1.085}]},"mark":{"type":"rule","color":"#333","strokeWidth":1.3,"clip":false},
     "encoding":{"y2":{"field":"y2"}}},
    {"data":{"values":[{"x":11.8,"y":1.084,"t":"π"},{"x":15.86,"y":0.576,"t":"π"}]},"mark":{"type":"text","fontSize":12,"align":"center","baseline":"alphabetic","color":"#333","font":"Liberation Serif","clip":false},
     "encoding":{"text":{"field":"t"}}},
    {"data":{"values":[{"x":11.93,"y":1.047,"t":"bic"}]},"mark":{"type":"text","fontSize":9,"align":"left","baseline":"alphabetic","color":"#333","font":"Liberation Sans","clip":false},
     "encoding":{"text":{"field":"t"}}},
    {"data":{"values":[{"x":15.96,"y":0.555,"t":"sel"}]},"mark":{"type":"text","fontSize":8.5,"align":"left","baseline":"alphabetic","color":"#333","font":"Liberation Sans","clip":false,"limit":9.2,"ellipsis":"\u200b"},
     "encoding":{"text":{"field":"t"}}}
   ]
  }
 ],
 "spacing":185,
 "bounds":"flush"
},
{
 "width":1000,"height":437,
 "view":{"stroke":null},
 "layer":[
  {"data":{"name":"caps"},"mark":{"type":"text","font":"Liberation Serif","fontSize":29,"align":"center","baseline":"alphabetic","color":"#000"},
   "encoding":{"x":{"field":"x","type":"quantitative","scale":{"domain":[62,1062],"nice":false,"zero":false},"axis":null},"y":{"field":"y","type":"quantitative","scale":{"domain":[355,792],"nice":false,"zero":false,"reverse":true},"axis":null},"text":{"field":"t"}}},
  {"data":{"name":"edges"},"transform":[{"filter":"datum.st == 'solid'"}],"mark":{"type":"rule","color":"#111","strokeWidth":1.3},
   "encoding":{"x":{"field":"x1","type":"quantitative","axis":null},"y":{"field":"y1","type":"quantitative","axis":null},"x2":{"field":"x2"},"y2":{"field":"y2"}}},
  {"data":{"name":"edges"},"transform":[{"filter":"datum.st == 'dashed'"}],"mark":{"type":"rule","color":"#111","strokeWidth":1.3,"strokeDash":[9,6]},
   "encoding":{"x":{"field":"x1","type":"quantitative","axis":null},"y":{"field":"y1","type":"quantitative","axis":null},"x2":{"field":"x2"},"y2":{"field":"y2"}}},
  {"data":{"name":"edges"},
   "transform":[{"filter":"datum.arr"},{"calculate":"datum.x2-datum.x1","as":"dx"},{"calculate":"datum.y2-datum.y1","as":"dy"},{"calculate":"sqrt(datum.dx*datum.dx+datum.dy*datum.dy)","as":"len"},{"calculate":"datum.x2-5*datum.dx/datum.len","as":"ax"},{"calculate":"datum.y2-5*datum.dy/datum.len","as":"ay"},{"calculate":"atan2(datum.dx,-datum.dy)*180/PI","as":"ang"}],
   "mark":{"type":"point","shape":"M0,-1L0.5,1L-0.5,1Z","size":100,"filled":true,"color":"#111","opacity":1},
   "encoding":{"x":{"field":"ax","type":"quantitative","axis":null},"y":{"field":"ay","type":"quantitative","axis":null},"angle":{"field":"ang","type":"quantitative","scale":null}}},
  {"data":{"name":"inds"},"mark":{"type":"rule","color":"#222","strokeWidth":4.2},
   "encoding":{"x":{"field":"x1","type":"quantitative","axis":null},"y":{"field":"y1","type":"quantitative","axis":null},"x2":{"field":"x2"},"y2":{"field":"y2"}}},
  {"data":{"name":"inds"},"mark":{"type":"rule","color":"white","strokeWidth":1.6},
   "encoding":{"x":{"field":"x1","type":"quantitative","axis":null},"y":{"field":"y1","type":"quantitative","axis":null},"x2":{"field":"x2"},"y2":{"field":"y2"}}},
  {"data":{"name":"inds"},
   "transform":[{"calculate":"datum.x2-datum.x1","as":"dx"},{"calculate":"datum.y2-datum.y1","as":"dy"},{"calculate":"sqrt(datum.dx*datum.dx+datum.dy*datum.dy)","as":"len"},{"calculate":"datum.x2-6*datum.dx/datum.len","as":"ax"},{"calculate":"datum.y2-6*datum.dy/datum.len","as":"ay"},{"calculate":"atan2(datum.dx,-datum.dy)*180/PI","as":"ang"}],
   "mark":{"type":"point","shape":"M0,-1L0.4,1L-0.4,1Z","size":144,"filled":false,"fill":"white","fillOpacity":1,"stroke":"#222","strokeWidth":1,"opacity":1},
   "encoding":{"x":{"field":"ax","type":"quantitative","axis":null},"y":{"field":"ay","type":"quantitative","axis":null},"angle":{"field":"ang","type":"quantitative","scale":null}}},
  {"data":{"name":"nodes"},"mark":{"type":"point","size":7056,"fill":"white","fillOpacity":1,"stroke":"#000","strokeWidth":2,"opacity":1},
   "encoding":{"x":{"field":"x","type":"quantitative","axis":null},"y":{"field":"y","type":"quantitative","axis":null},
    "shape":{"field":"n","type":"nominal","legend":null,"scale":{"domain":["Desire","Arousal","Lubrication","Orgasm","Satisfaction","Pain"],"range":[
     "M0.905,0C0.905,0.355,0.5,0.643,0,0.643C-0.5,0.643,-0.905,0.355,-0.905,0C-0.905,-0.355,-0.5,-0.643,0,-0.643C0.5,-0.643,0.905,-0.355,0.905,0Z",
     "M0.905,0C0.905,0.381,0.5,0.69,0,0.69C-0.5,0.69,-0.905,0.381,-0.905,0C-0.905,-0.381,-0.5,-0.69,0,-0.69C0.5,-0.69,0.905,-0.381,0.905,0Z",
     "M1,0C1,0.362,0.552,0.655,0,0.655C-0.552,0.655,-1,0.362,-1,0C-1,-0.362,-0.552,-0.655,0,-0.655C0.552,-0.655,1,-0.362,1,0Z",
     "M0.857,0C0.857,0.355,0.473,0.643,0,0.643C-0.473,0.643,-0.857,0.355,-0.857,0C-0.857,-0.355,-0.473,-0.643,0,-0.643C0.473,-0.643,0.857,-0.355,0.857,0Z",
     "M0.976,0C0.976,0.447,0.539,0.81,0,0.81C-0.539,0.81,-0.976,0.447,-0.976,0C-0.976,-0.447,-0.539,-0.81,0,-0.81C0.539,-0.81,0.976,-0.447,0.976,0Z",
     "M0.833,0C0.833,0.394,0.46,0.714,0,0.714C-0.46,0.714,-0.833,0.394,-0.833,0C-0.833,-0.394,-0.46,-0.714,0,-0.714C0.46,-0.714,0.833,-0.394,0.833,0Z"]}}}},
  {"data":{"name":"nodes"},"mark":{"type":"text","font":"Liberation Serif","fontSize":15.5,"lineBreak":"\n","lineHeight":16,"align":"center","baseline":"middle","color":"#111"},
   "encoding":{"x":{"field":"x","type":"quantitative","axis":null},"y":{"field":"y","type":"quantitative","axis":null},"text":{"field":"t"}}},
  {"data":{"name":"boxes"},"mark":{"type":"point","shape":"M-1,-1.12L1,-1.12L1,1.12L-1,1.12Z","size":1024,"filled":true,"color":"#000","stroke":"#777","strokeWidth":1,"opacity":1,"clip":true},
   "encoding":{"x":{"field":"x","type":"quantitative","axis":null},"y":{"field":"y","type":"quantitative","axis":null}}},
  {"data":{"name":"boxes"},"mark":{"type":"text","font":"Liberation Serif","fontWeight":"bold","fontSize":10,"lineBreak":"\n","lineHeight":14,"align":"center","baseline":"middle","dy":-4,"color":"white","clip":true},
   "encoding":{"x":{"field":"x","type":"quantitative","axis":null},"y":{"field":"y","type":"quantitative","axis":null},"text":{"field":"t"}}},
  {"data":{"name":"elabs"},"mark":{"type":"text","font":"Liberation Serif","fontSize":9,"align":"center","baseline":"middle","color":"#222"},
   "encoding":{"x":{"field":"x","type":"quantitative","axis":null},"y":{"field":"y","type":"quantitative","axis":null},"text":{"field":"t"},"angle":{"field":"a","type":"quantitative","scale":null}}}
 ]
}
]
}
